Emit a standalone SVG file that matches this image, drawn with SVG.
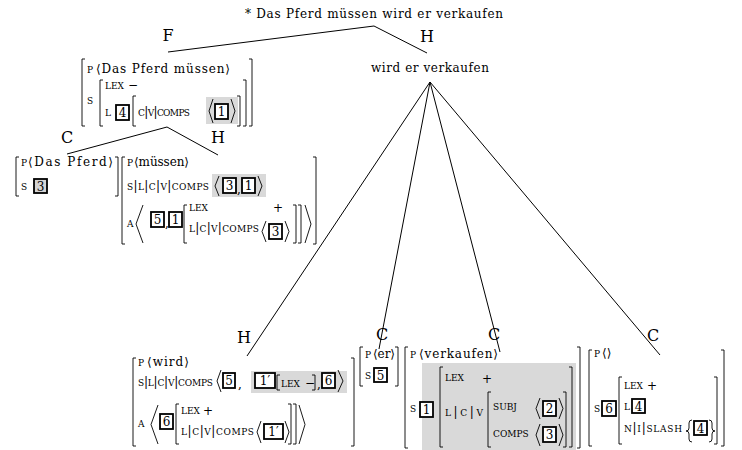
<svg xmlns="http://www.w3.org/2000/svg" width="742" height="450" viewBox="0 0 742 450">
<style>
  .t { font-family: "DejaVu Serif", "Liberation Serif", serif; font-size: 12px; fill: #000; }
  .sc { font-size: 9px; }
  .bar { font-size: 12px; }
  .lbl { font-family: "DejaVu Serif", "Liberation Serif", serif; font-size: 16px; text-anchor: middle; fill: #000; }
  .num { font-family: "DejaVu Serif", "Liberation Serif", serif; font-size: 12px; text-anchor: middle; fill: #000; }
  .br { fill: none; stroke: #000; stroke-width: 0.9; }
  .edge { fill: none; stroke: #000; stroke-width: 1; }
  .tag { fill: #fff; stroke: #000; stroke-width: 1.8; }
  .tagg { fill: #d4d4d4; stroke: #000; stroke-width: 1.8; }
  .hl { fill: #d9d9d9; }
</style>
<rect width="742" height="450" fill="#fff"/>

<!-- tree edges -->
<g id="connectors">
  <path class="edge" d="M168 52L374 26L427 53"/>
  <path class="edge" d="M67 154L167 127L218 155"/>
  <path class="edge" d="M247 356L430 82L379 349M430 82L500 352M430 82L660 355"/>
</g>

<!-- edge labels: head, filler, complement -->
<g id="edge-labels">
  <text class="lbl" x="168" y="41">F</text>
  <text class="lbl" x="427" y="42">H</text>
  <text class="lbl" x="67" y="143">C</text>
  <text class="lbl" x="218" y="143">H</text>
  <text class="lbl" x="244" y="343">H</text>
  <text class="lbl" x="382" y="340">C</text>
  <text class="lbl" x="494" y="340">C</text>
  <text class="lbl" x="653" y="341">C</text>
</g>

<g id="root">
  <text class="t" x="245" y="18" textLength="258">* Das Pferd müssen wird er verkaufen</text>
</g>

<g id="node-head-phrase">
  <text class="t" x="371" y="72" textLength="118">wird er verkaufen</text>
</g>

<!-- filler: Das Pferd müssen -->
<g id="node-filler">
  <path class="br" d="M85 59H82V126H85"/>
  <path class="br" d="M249 59H252V126H249"/>
  <text class="t sc" x="87" y="73">P</text>
  <text class="t" x="96" y="73" textLength="134">⟨Das Pferd müssen⟩</text>
  <text class="t sc" x="87" y="104">S</text>
  <path class="br" d="M103 80H100V126H103"/>
  <path class="br" d="M243 80H246V126H243"/>
  <text class="t sc" x="105" y="89">LEX</text>
  <text class="t" x="128" y="89">−</text>
  <text class="t sc" x="105" y="116">L</text>
  <rect class="tag" x="116" y="105" width="13" height="15"/>
  <text class="num" x="122.5" y="117">4</text>
  <path class="br" d="M136 96H133V126H136"/>
  <path class="br" d="M237 96H240V126H237"/>
  <text class="t sc" x="138" y="116" textLength="52">C<tspan class="bar">|</tspan>V<tspan class="bar">|</tspan>COMPS</text>
  <rect class="hl" x="206" y="97" width="32" height="27"/>
  <path class="br" d="M213 99L209 111L213 123"/>
  <rect class="tag" x="215" y="104" width="13" height="15"/>
  <text class="num" x="221.5" y="116">1</text>
  <path class="br" d="M231 99L235 111L231 123"/>
</g>

<!-- complement: Das Pferd -->
<g id="node-das-pferd">
  <path class="br" d="M19 157H16V196H19"/>
  <path class="br" d="M115 157H118V196H115"/>
  <text class="t sc" x="21" y="166">P</text>
  <text class="t" x="28" y="166" textLength="85">⟨Das Pferd⟩</text>
  <text class="t sc" x="21" y="190">S</text>
  <rect class="tagg" x="34" y="179" width="13" height="14"/>
  <text class="num" x="40.5" y="190.5">3</text>
</g>

<!-- head: müssen -->
<g id="node-muessen">
  <path class="br" d="M125 157H122V244H125"/>
  <path class="br" d="M313 157H316V244H313"/>
  <text class="t sc" x="127" y="166">P</text>
  <text class="t" x="134" y="166" textLength="55">⟨müssen⟩</text>
  <text class="t sc" x="127" y="190" textLength="82">S<tspan class="bar">|</tspan>L<tspan class="bar">|</tspan>C<tspan class="bar">|</tspan>V<tspan class="bar">|</tspan>COMPS</text>
  <rect class="hl" x="212" y="174" width="54" height="23"/>
  <path class="br" d="M219 176L215 186L219 196"/>
  <rect class="tag" x="223" y="178" width="13" height="15"/>
  <text class="num" x="229.5" y="190">3</text>
  <text class="t" x="237" y="193">,</text>
  <rect class="tag" x="242" y="178" width="13" height="15"/>
  <text class="num" x="248.5" y="190">1</text>
  <path class="br" d="M258 176L262 186L258 196"/>
  <text class="t sc" x="127" y="227">A</text>
  <path class="br" d="M143 205L136 224L143 243"/>
  <rect class="tag" x="151" y="212" width="13" height="15"/>
  <text class="num" x="157.5" y="224">5</text>
  <text class="t" x="165" y="227">,</text>
  <rect class="tag" x="169" y="212" width="13" height="15"/>
  <text class="num" x="175.5" y="224">1</text>
  <path class="br" d="M187 205H184V243H187"/>
  <text class="t sc" x="189" y="211">LEX</text>
  <text class="t" x="273" y="212">+</text>
  <text class="t sc" x="189" y="232" textLength="70">L<tspan class="bar">|</tspan>C<tspan class="bar">|</tspan>V<tspan class="bar">|</tspan>COMPS</text>
  <path class="br" d="M266 221L262 231.5L266 242"/>
  <rect class="tag" x="269" y="224" width="13" height="15"/>
  <text class="num" x="275.5" y="236">3</text>
  <path class="br" d="M285 221L289 231.5L285 242"/>
  <path class="br" d="M293 205H296V243H293"/>
  <path class="br" d="M298 205H301V243H298"/>
  <path class="br" d="M305 205L311 224L305 243"/>
</g>

<!-- head: wird -->
<g id="node-wird">
  <path class="br" d="M136 358H133V446H136"/>
  <path class="br" d="M351 358H354V446H351"/>
  <text class="t sc" x="138" y="366">P</text>
  <text class="t" x="147" y="366" textLength="42">⟨wird⟩</text>
  <text class="t sc" x="138" y="386" textLength="75">S<tspan class="bar">|</tspan>L<tspan class="bar">|</tspan>C<tspan class="bar">|</tspan>V<tspan class="bar">|</tspan>COMPS</text>
  <path class="br" d="M221 370L217 381L221 392"/>
  <rect class="tag" x="223" y="373" width="12" height="15"/>
  <text class="num" x="229" y="385">5</text>
  <text class="t" x="238" y="388">,</text>
  <rect class="hl" x="251" y="371" width="96" height="22"/>
  <rect class="tag" x="255" y="373" width="20" height="15"/>
  <text class="num" x="265" y="385">1′</text>
  <path class="br" d="M280 375H277V390H280"/>
  <text class="t sc" x="281" y="387">LEX</text>
  <text class="t" x="305" y="387">−</text>
  <path class="br" d="M312 375H315V390H312"/>
  <text class="t" x="317" y="388">,</text>
  <rect class="tag" x="322" y="373" width="13" height="15"/>
  <text class="num" x="328.5" y="385">6</text>
  <path class="br" d="M338 370L343 381L338 392"/>
  <text class="t sc" x="138" y="427">A</text>
  <path class="br" d="M158 405L151 424.5L158 444"/>
  <rect class="tag" x="160" y="414" width="13" height="15"/>
  <text class="num" x="166.5" y="426">6</text>
  <path class="br" d="M179 404H176V444H179"/>
  <text class="t sc" x="181" y="414">LEX</text>
  <text class="t" x="203" y="415">+</text>
  <text class="t sc" x="181" y="435" textLength="73">L<tspan class="bar">|</tspan>C<tspan class="bar">|</tspan>V<tspan class="bar">|</tspan>COMPS</text>
  <path class="br" d="M261 421L257 432L261 443"/>
  <rect class="tag" x="264" y="424" width="19" height="15"/>
  <text class="num" x="273.5" y="436">1′</text>
  <path class="br" d="M285 421L289 432L285 443"/>
  <path class="br" d="M288 404H291V444H288"/>
  <path class="br" d="M293 404H296V444H293"/>
  <path class="br" d="M299 405L305 424.5L299 444"/>
</g>

<!-- complement: er -->
<g id="node-er">
  <path class="br" d="M363 347H360V386H363"/>
  <path class="br" d="M395 347H398V386H395"/>
  <text class="t sc" x="365" y="358">P</text>
  <text class="t" x="373" y="358" textLength="22">⟨er⟩</text>
  <text class="t sc" x="365" y="379">S</text>
  <rect class="tag" x="374" y="368" width="13" height="14"/>
  <text class="num" x="380.5" y="379.5">5</text>
</g>

<!-- complement: verkaufen -->
<g id="node-verkaufen">
  <path class="br" d="M408 347H405V448H408"/>
  <path class="br" d="M577 347H580V448H577"/>
  <text class="t sc" x="410" y="358">P</text>
  <text class="t" x="419" y="358" textLength="79">⟨verkaufen⟩</text>
  <rect class="hl" x="422" y="363" width="154" height="87"/>
  <text class="t sc" x="410" y="412">S</text>
  <rect class="tag" x="420" y="402" width="13" height="15"/>
  <text class="num" x="426.5" y="414">1</text>
  <path class="br" d="M443 367H440V447H443"/>
  <path class="br" d="M569 367H572V447H569"/>
  <text class="t sc" x="445" y="381">LEX</text>
  <text class="t" x="482" y="383">+</text>
  <text class="t sc" x="445" y="416" textLength="38">L<tspan class="bar">|</tspan>C<tspan class="bar">|</tspan>V</text>
  <path class="br" d="M491 392H488V447H491"/>
  <path class="br" d="M563 392H566V447H563"/>
  <text class="t sc" x="493" y="410">SUBJ</text>
  <path class="br" d="M540 398L536 408.5L540 419"/>
  <rect class="tag" x="543" y="401" width="13" height="15"/>
  <text class="num" x="549.5" y="413">2</text>
  <path class="br" d="M559 398L563 408.5L559 419"/>
  <text class="t sc" x="493" y="437">COMPS</text>
  <path class="br" d="M540 424L536 435L540 446"/>
  <rect class="tag" x="543" y="427" width="13" height="15"/>
  <text class="num" x="549.5" y="439">3</text>
  <path class="br" d="M559 424L563 435L559 446"/>
</g>

<!-- complement: empty phonology, slashed -->
<g id="node-gap">
  <path class="br" d="M592 350H589V446H592"/>
  <path class="br" d="M721 350H724V446H721"/>
  <text class="t sc" x="594" y="357">P</text>
  <text class="t" x="602" y="357">⟨⟩</text>
  <text class="t sc" x="594" y="412">S</text>
  <rect class="tag" x="602" y="401" width="14" height="15"/>
  <text class="num" x="609" y="413">6</text>
  <path class="br" d="M622 377H619V444H622"/>
  <path class="br" d="M714 377H717V444H714"/>
  <text class="t sc" x="624" y="389">LEX</text>
  <text class="t" x="647" y="390">+</text>
  <text class="t sc" x="624" y="410">L</text>
  <rect class="tag" x="632" y="399" width="13" height="14"/>
  <text class="num" x="638.5" y="410.5">4</text>
  <text class="t sc" x="624" y="432" textLength="58">N<tspan class="bar">|</tspan>I<tspan class="bar">|</tspan>SLASH</text>
  <path class="br" d="M692 420Q689 420 689 423V428Q689 431 686 431Q689 431 689 434V439Q689 442 692 442"/>
  <rect class="tag" x="694" y="421" width="13" height="14"/>
  <text class="num" x="700.5" y="432.5">4</text>
  <path class="br" d="M709 420Q712 420 712 423V428Q712 431 715 431Q712 431 712 434V439Q712 442 709 442"/>
</g>
</svg>
